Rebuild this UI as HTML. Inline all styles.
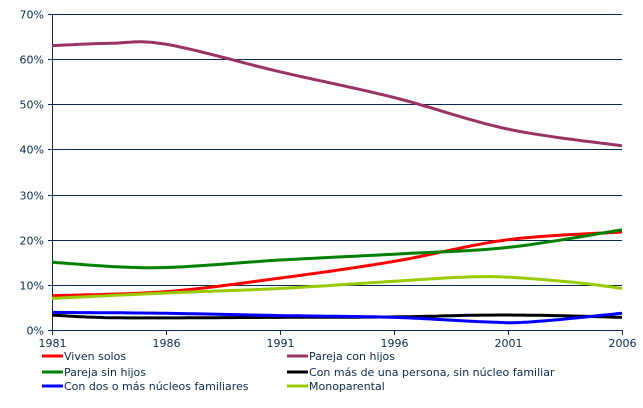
<!DOCTYPE html>
<html><head><meta charset="utf-8"><style>
body{margin:0;background:#fff;width:643px;height:403px;overflow:hidden}
text{font-family:"DejaVu Sans","Liberation Sans",sans-serif;font-size:11px;fill:#0a2a50}
</style></head><body>
<svg id="s" width="643" height="403" xmlns="http://www.w3.org/2000/svg">
<g stroke="#0a2a50" stroke-width="1" id="grid"></g>
<g id="lab"></g>
<g id="ser" fill="none" stroke-width="3" stroke-linejoin="round"></g>
<g id="leg"></g>
</svg>
<script>
const L=52,R=622,T=14,B=330,ns="http://www.w3.org/2000/svg";
const X=y=>L+(y-1981)*(R-L)/25, Y=v=>B-v*(B-T)/70;
function el(p,t,a,txt){const e=document.createElementNS(ns,t);for(const k in a)e.setAttribute(k,a[k]);if(txt)e.textContent=txt;document.getElementById(p).appendChild(e);return e;}
for(let i=0;i<=7;i++){const y=Math.round(Y(i*10))+0.5;el('grid','line',{x1:48,x2:R,y1:y,y2:y});el('lab','text',{x:44,y:y+4,'text-anchor':'end'},i*10+'%');}
el('grid','line',{x1:L+.5,x2:L+.5,y1:T,y2:B+4});
for(let i=0;i<=5;i++){const x=Math.round(X(1981+5*i))+.5;el('grid','line',{x1:x,x2:x,y1:B,y2:B+5});el('lab','text',{x:x,y:B+17,'text-anchor':'middle'},1981+5*i);}
const S=[
['#ff0000',[[1981,7.6],[1986,8.5],[1991,11.5],[1996,15.2],[2001,20.0],[2006,21.7]]],
['#993366',[[1981,63],[1983.5,63.5],[1986,63.3],[1991,57.2],[1996,51.5],[2001,44.5],[2006,40.8]]],
['#008000',[[1981,15],[1985.5,13.8],[1991,15.5],[1996,16.8],[2001,18.3],[2006,22.2]]],
['#000000',[[1981,3.3],[1984,2.7],[1991,2.8],[1996,2.9],[2000,3.3],[2003,3.2],[2006,2.8]]],
['#0000ff',[[1981,3.9],[1986,3.7],[1991,3.2],[1996,2.8],[2000,1.8],[2002,1.8],[2006,3.7]]],
['#99cc00',[[1981,7.0],[1986,8.2],[1991,9.2],[1996,10.8],[1999,11.7],[2001,11.7],[2004,10.5],[2006,9.2]]]];
for(const [c,p] of S){let pts=[];for(let i=0;i<p.length-1;i++){const p0=p[Math.max(0,i-1)],p1=p[i],p2=p[i+1],p3=p[Math.min(p.length-1,i+2)];
for(let t=0;t<1;t+=0.05){const t2=t*t,t3=t2*t;const f=(a,b,c2,d)=>0.5*(2*b+(-a+c2)*t+(2*a-5*b+4*c2-d)*t2+(-a+3*b-3*c2+d)*t3);
pts.push(X(f(p0[0],p1[0],p2[0],p3[0])).toFixed(1)+','+Y(f(p0[1],p1[1],p2[1],p3[1])).toFixed(1));}}
pts.push(X(p[p.length-1][0])+','+Y(p[p.length-1][1]));el('ser','polyline',{points:pts.join(' '),stroke:c});}
const lg=[['#ff0000','Viven solos',42,360],['#993366','Pareja con hijos',287,360],['#008000','Pareja sin hijos',42,376],['#000000','Con más de una persona, sin núcleo familiar',287,376],['#0000ff','Con dos o más núcleos familiares',42,390],['#99cc00','Monoparental',287,390]];
for(const [c,t,x,y] of lg){el('leg','line',{x1:x,x2:x+21,y1:y-4,y2:y-4,stroke:c,'stroke-width':3});el('leg','text',{x:x+22,y:y},t);}
</script>
</body></html>
